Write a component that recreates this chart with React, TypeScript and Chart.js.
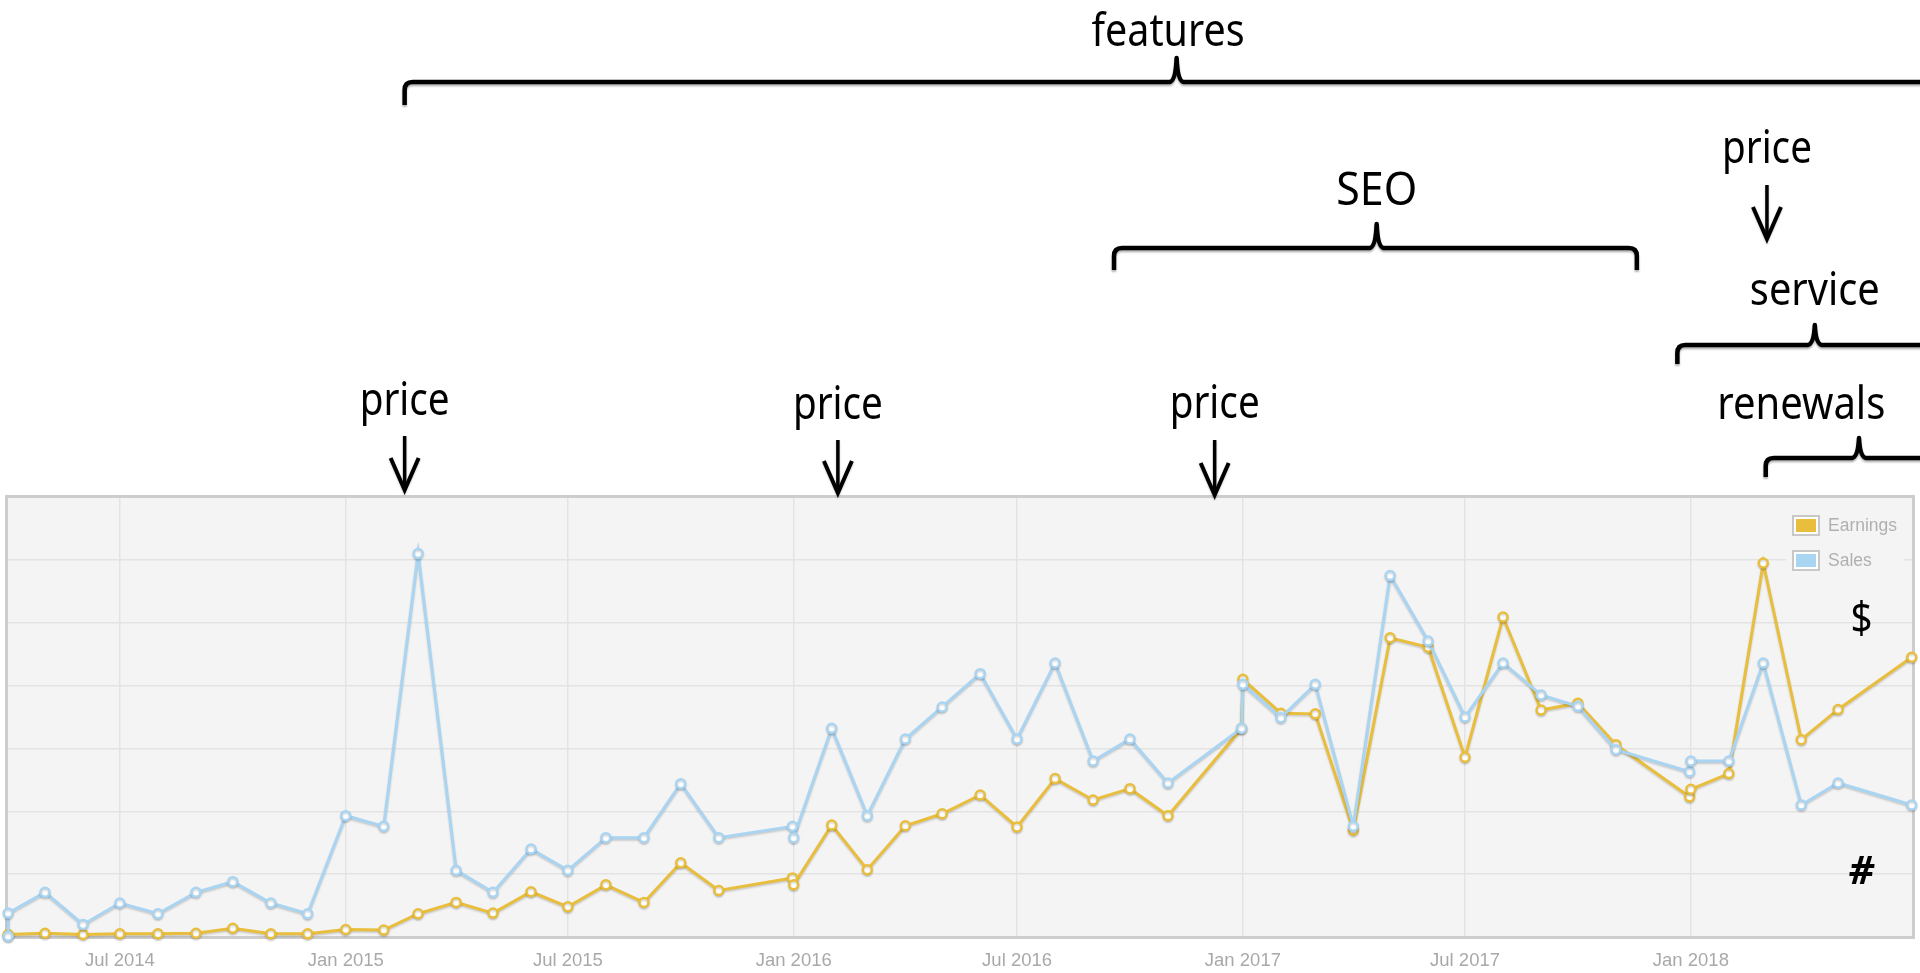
import React, { useEffect, useRef } from "react";
import { Chart, registerables } from "chart.js";

Chart.register(...registerables);

// ---------- data ----------
const dates = [
  "2014-04-01", "2014-04-01", "2014-05-01", "2014-06-01", "2014-07-01", "2014-08-01",
  "2014-09-01", "2014-10-01", "2014-11-01", "2014-12-01", "2015-01-01", "2015-02-01",
  "2015-03-01", "2015-04-01", "2015-05-01", "2015-06-01", "2015-07-01", "2015-08-01",
  "2015-09-01", "2015-10-01", "2015-11-01", "2015-12-31", "2016-01-01", "2016-02-01",
  "2016-03-01", "2016-04-01", "2016-05-01", "2016-06-01", "2016-07-01", "2016-08-01",
  "2016-09-01", "2016-10-01", "2016-11-01", "2016-12-31", "2017-01-01", "2017-02-01",
  "2017-03-01", "2017-04-01", "2017-05-01", "2017-06-01", "2017-07-01", "2017-08-01",
  "2017-09-01", "2017-10-01", "2017-11-01", "2017-12-31", "2018-01-01", "2018-02-01",
  "2018-03-01", "2018-04-01", "2018-05-01", "2018-06-30",
];

const earningsValues = [
  0.03, 0.04, 0.06, 0.04, 0.05, 0.05,
  0.06, 0.14, 0.05, 0.05, 0.12, 0.11,
  0.37, 0.55, 0.38, 0.72, 0.48, 0.83,
  0.55, 1.18, 0.74, 0.94, 0.83, 1.78,
  1.07, 1.77, 1.96, 2.26, 1.75, 2.52,
  2.18, 2.36, 1.93, 3.32, 4.1, 3.56,
  3.55, 1.7, 4.76, 4.61, 2.86, 5.09,
  3.61, 3.72, 3.06, 2.23, 2.35, 2.6,
  5.95, 3.14, 3.62, 4.45,
];

const salesValues = [
  0.01, 0.38, 0.71, 0.2, 0.54, 0.37,
  0.71, 0.88, 0.54, 0.37, 1.93, 1.76,
  6.1, 1.06, 0.71, 1.4, 1.06, 1.58,
  1.58, 2.44, 1.58, 1.76, 1.58, 3.32,
  1.93, 3.15, 3.66, 4.19, 3.15, 4.36,
  2.8, 3.15, 2.45, 3.32, 4.02, 3.49,
  4.02, 1.76, 5.75, 4.71, 3.5, 4.36,
  3.85, 3.67, 2.98, 2.63, 2.8, 2.8,
  4.36, 2.1, 2.45, 2.1,
];

const seriesLabels = ["Earnings", "Sales"];
const seriesColors = ["#E9BE3C", "#A9D4F2"];

const tickDates = [
  "2014-07-01", "2015-01-01", "2015-07-01", "2016-01-01",
  "2016-07-01", "2017-01-01", "2017-07-01", "2018-01-01",
];
const tickLabels = [
  "Jul 2014", "Jan 2015", "Jul 2015", "Jan 2016",
  "Jul 2016", "Jan 2017", "Jul 2017", "Jan 2018",
];
const xRange = ["2014-03-31", "2018-07-01"];
const yRange = [0, 7];

// ---------- annotations ----------
const priceMarks = [
  { label: "price", date: "2015-02-18", textY: 415, shaftTop: 436, tipY: 490 },
  { label: "price", date: "2016-02-06", textY: 419, shaftTop: 440, tipY: 493 },
  { label: "price", date: "2016-12-09", textY: 418, shaftTop: 440, tipY: 495 },
  { label: "price", date: "2018-03-04", textY: 163, shaftTop: 185, tipY: 239 },
];

const brackets = [
  { label: "features", from: "2015-02-18", to: "2018-09-15", peak: "2016-11-08", text: "2016-11-01", textY: 46, lineY: 82, endY: 105, peakY: 58, textW: 153 },
  { label: "SEO", from: "2016-09-18", to: "2017-11-18", peak: "2017-04-20", text: "2017-04-20", textY: 205, lineY: 248, endY: 270, peakY: 224, textW: 81 },
  { label: "service", from: "2017-12-21", to: "2018-09-15", peak: "2018-04-12", text: "2018-04-12", textY: 305, lineY: 345, endY: 364, peakY: 325, textW: 130 },
  { label: "renewals", from: "2018-03-03", to: "2018-09-15", peak: "2018-05-18", text: "2018-04-01", textY: 419, lineY: 458, endY: 477, peakY: 438, textW: 168 },
];

const sideLabels = [
  { label: "$", date: "2018-05-20", y: 633, font: "44px 'Noto Sans', sans-serif", w: 22 },
  { label: "#", date: "2018-05-20", y: 884, font: "italic bold 40px 'Noto Sans', sans-serif", w: 28 },
];

const ANN_FONT = "'Noto Sans', 'DejaVu Sans', sans-serif";
const TICK_FONT = "'Liberation Sans', Arial, sans-serif";

const dayOf = (s: string) => Date.parse(s + "T00:00:00Z") / 86400000;

const decorPlugin = {
  id: "decor",
  beforeDraw(chart: any) {
    const { ctx, chartArea: ca } = chart;
    ctx.save();
    ctx.fillStyle = "#f4f4f4";
    ctx.fillRect(ca.left, ca.top, ca.right - ca.left, ca.bottom - ca.top);
    ctx.restore();
  },
  beforeDatasetsDraw(chart: any) {
    const { ctx, chartArea: ca } = chart;
    // frame
    ctx.save();
    ctx.strokeStyle = "#cdcdcd";
    ctx.lineWidth = 3;
    ctx.strokeRect(ca.left - 0.5, ca.top - 0.5, ca.right - ca.left + 1, ca.bottom - ca.top + 1);
    // legend
    const bx = ca.right - 121;
    ctx.fillStyle = "#f4f4f4";
    ctx.fillRect(bx - 6, ca.top + 10, 118, 76);
    chart.data.datasets.forEach((ds: any, i: number) => {
      const by = ca.top + 18 + i * 35;
      ctx.fillStyle = "#ffffff";
      ctx.fillRect(bx, by, 28, 21);
      ctx.strokeStyle = "#c8c8c8";
      ctx.lineWidth = 2;
      ctx.strokeRect(bx + 1, by + 1, 26, 19);
      ctx.fillStyle = ds.borderColor;
      ctx.fillRect(bx + 4, by + 4, 20, 13);
      ctx.fillStyle = "#b0b0b0";
      ctx.font = "17.5px " + TICK_FONT;
      ctx.textAlign = "left";
      ctx.textBaseline = "middle";
      ctx.fillText(ds.label, bx + 36, by + 11);
    });
    ctx.restore();
    // soft shadow for lines
    ctx.save();
    ctx.shadowColor = "rgba(0,0,0,0.18)";
    ctx.shadowBlur = 2;
    ctx.shadowOffsetY = 1.5;
  },
  afterDatasetsDraw(chart: any) {
    chart.ctx.restore();
  },
  afterDraw(chart: any) {
    const { ctx } = chart;
    const xs = chart.scales.x;
    const px = (d: string) => xs.getPixelForValue(dayOf(d));
    ctx.save();
    ctx.fillStyle = "#000";
    ctx.strokeStyle = "#000";
    ctx.textAlign = "center";
    ctx.textBaseline = "alphabetic";
    ctx.font = "46px " + ANN_FONT;

    // brackets
    brackets.forEach((b) => {
      const x1 = px(b.from);
      const x2 = px(b.to);
      const xp = px(b.peak);
      const y = b.lineY;
      const r = 8;
      ctx.save();
      ctx.shadowColor = "rgba(0,0,0,0.3)";
      ctx.shadowBlur = 2;
      ctx.shadowOffsetY = 2;
      ctx.lineWidth = 4.5;
      ctx.lineJoin = "round";
      ctx.beginPath();
      ctx.moveTo(x1, b.endY);
      ctx.lineTo(x1, y + r);
      ctx.quadraticCurveTo(x1, y, x1 + r, y);
      ctx.lineTo(xp - 7, y);
      ctx.quadraticCurveTo(xp - 1, y - 1, xp, b.peakY);
      ctx.quadraticCurveTo(xp + 1, y - 1, xp + 7, y);
      ctx.lineTo(x2 - r, y);
      ctx.quadraticCurveTo(x2, y, x2, y + r);
      ctx.lineTo(x2, b.endY);
      ctx.stroke();
      ctx.restore();
      ctx.fillText(b.label, px(b.text), b.textY, b.textW);
    });

    // price arrows
    priceMarks.forEach((p) => {
      const x = px(p.date);
      ctx.fillText(p.label, x, p.textY, 90);
      ctx.save();
      ctx.shadowColor = "rgba(0,0,0,0.25)";
      ctx.shadowBlur = 2;
      ctx.shadowOffsetY = 1;
      ctx.lineWidth = 3.5;
      ctx.beginPath();
      ctx.moveTo(x, p.shaftTop);
      ctx.lineTo(x, p.tipY - 2);
      ctx.stroke();
      ctx.lineWidth = 4;
      ctx.lineJoin = "miter";
      ctx.beginPath();
      ctx.moveTo(x - 14, p.tipY - 32);
      ctx.lineTo(x, p.tipY);
      ctx.lineTo(x + 14, p.tipY - 32);
      ctx.stroke();
      ctx.restore();
    });

    // $ and # markers
    sideLabels.forEach((s) => {
      ctx.font = s.font;
      ctx.fillText(s.label, px(s.date), s.y, s.w);
    });
    ctx.restore();
  },
};

export default function App() {
  const ref = useRef<HTMLCanvasElement>(null);

  useEffect(() => {
    const canvas = ref.current;
    if (!canvas) return;
    const series = [earningsValues, salesValues];
    const chart = new Chart(canvas, {
      type: "line",
      data: {
        datasets: series.map((vals, i) => ({
          label: seriesLabels[i],
          data: dates.map((d, j) => ({ x: dayOf(d), y: vals[j] })),
          borderColor: seriesColors[i],
          backgroundColor: seriesColors[i],
          borderWidth: 3,
          pointRadius: 4.5,
          pointBorderWidth: 2.5,
          pointBackgroundColor: "#ffffff",
          pointBorderColor: seriesColors[i],
          tension: 0,
          fill: false,
          clip: false as any,
          order: i === 0 ? 1 : 0,
        })),
      },
      options: {
        responsive: false,
        animation: false,
        devicePixelRatio: 1,
        events: [],
        layout: { padding: { left: 4, right: 6, top: 497, bottom: 0 } },
        plugins: {
          legend: { display: false },
          tooltip: { enabled: false },
          title: { display: false },
        },
        scales: {
          x: {
            type: "linear",
            min: dayOf(xRange[0]),
            max: dayOf(xRange[1]),
            afterBuildTicks: (axis: any) => {
              axis.ticks = tickDates.map((d) => ({ value: dayOf(d) }));
            },
            afterFit: (axis: any) => {
              axis.height = 36;
              axis.paddingLeft = 0;
              axis.paddingRight = 0;
            },
            ticks: {
              autoSkip: false,
              maxRotation: 0,
              padding: 13,
              color: "#a9a9a9",
              font: { size: 18.5, family: TICK_FONT },
              callback: (_v: any, i: number) => tickLabels[i],
            },
            grid: { color: "#e3e3e3", lineWidth: 1.5, drawTicks: false },
            border: { display: false },
          },
          y: {
            type: "linear",
            min: yRange[0],
            max: yRange[1],
            ticks: { display: false, stepSize: 1 },
            afterFit: (axis: any) => {
              axis.width = 0;
            },
            grid: { color: "#e3e3e3", lineWidth: 1.5, drawTicks: false },
            border: { display: false },
          },
        },
      },
      plugins: [decorPlugin],
    });
    return () => chart.destroy();
  }, []);

  return (
    <canvas
      ref={ref}
      width={1920}
      height={973}
      style={{ position: "fixed", left: 0, top: 0, width: 1920, height: 973, display: "block", background: "#fff" }}
    />
  );
}
